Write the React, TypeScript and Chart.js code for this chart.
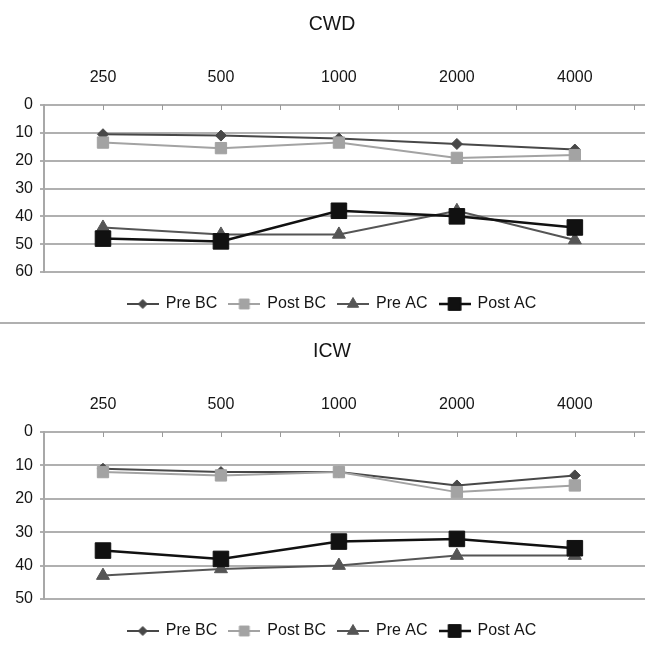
import React, { useEffect, useRef } from 'react';
import { Chart, registerables } from 'chart.js';
import { drawPoint } from 'chart.js/helpers';

Chart.register(...registerables);

const freqLabels = ['250', '500', '1000', '2000', '4000'];
const seriesNames = ['Pre BC', 'Post BC', 'Pre AC', 'Post AC'];

const cwdPreBC = [10.5, 11, 12, 14, 16];
const cwdPostBC = [13.5, 15.5, 13.5, 19, 18];
const cwdPreAC = [44, 46.5, 46.5, 38, 48.5];
const cwdPostAC = [48, 49, 38, 40, 44];

const icwPreBC = [11, 12, 12, 16, 13];
const icwPostBC = [12, 13, 12, 18, 16];
const icwPreAC = [43, 41, 40, 37, 37];
const icwPostAC = [35.5, 38, 32.8, 32, 34.8];

const cwdMax = 60;
const icwMax = 50;
const yStep = 10;

const FAMILY = '"Liberation Sans", Arial, sans-serif';
const TEXT = '#151515';

const STYLES = [
  { color: '#484848', pointStyle: 'rectRot', radius: 5.5, legendRadius: 4.5, lineWidth: 2 },
  { color: '#a3a3a3', pointStyle: 'rect', radius: 8, legendRadius: 7, lineWidth: 2 },
  { color: '#555555', pointStyle: 'triangle', radius: 7.5, legendRadius: 6.5, lineWidth: 2 },
  { color: '#111111', pointStyle: 'rect', radius: 11, legendRadius: 9, lineWidth: 2.5 },
];

function makeIcon(s: any) {
  const c = document.createElement('canvas');
  c.width = 32;
  c.height = 18;
  const ctx = c.getContext('2d')!;
  ctx.strokeStyle = s.color;
  ctx.fillStyle = s.color;
  ctx.lineWidth = s.lineWidth;
  ctx.beginPath();
  ctx.moveTo(0, 9);
  ctx.lineTo(32, 9);
  ctx.stroke();
  ctx.lineWidth = 1;
  drawPoint(ctx, { pointStyle: s.pointStyle, radius: s.legendRadius, rotation: 0, borderWidth: 1 } as any, 16, 9);
  return c;
}

const innerTicks = {
  id: 'innerTicks',
  beforeDatasetsDraw(chart: any) {
    const xs = chart.scales.x;
    const { top } = chart.chartArea;
    const ctx = chart.ctx;
    ctx.save();
    ctx.strokeStyle = '#9a9a9a';
    ctx.lineWidth = 1;
    for (let v = 0; v <= freqLabels.length - 0.5; v += 0.5) {
      const px = Math.round(xs.getPixelForValue(v)) + 0.5;
      ctx.beginPath();
      ctx.moveTo(px, top);
      ctx.lineTo(px, top + 5);
      ctx.stroke();
    }
    ctx.restore();
  },
};

function AudioChart({ title, top, ymax, series }: { title: string; top: number; ymax: number; series: number[][] }) {
  const ref = useRef<HTMLCanvasElement | null>(null);
  useEffect(() => {
    if (!ref.current) return;
    const icons = STYLES.map(makeIcon);
    const font = { family: FAMILY, size: 16 };
    const baseGen = (Chart as any).defaults.plugins.legend.labels.generateLabels;
    const chart = new Chart(ref.current, {
      type: 'line',
      data: {
        datasets: series.map((vals, k) => ({
          label: seriesNames[k],
          data: vals.map((v, i) => ({ x: i, y: v })),
          borderColor: STYLES[k].color,
          backgroundColor: STYLES[k].color,
          pointBackgroundColor: STYLES[k].color,
          pointBorderColor: STYLES[k].color,
          pointStyle: STYLES[k].pointStyle as any,
          pointRadius: STYLES[k].radius,
          pointBorderWidth: 1,
          borderWidth: STYLES[k].lineWidth,
          tension: 0,
          order: series.length - k,
        })),
      },
      options: {
        responsive: false,
        animation: false,
        layout: { padding: { top: 51, left: 0, right: 0, bottom: 0 } },
        plugins: {
          title: { display: false },
          tooltip: { enabled: false },
          legend: {
            position: 'bottom',
            title: { display: true, text: ' ', font: { family: FAMILY, size: 10, lineHeight: 1.2 }, padding: 0 },
            labels: {
              usePointStyle: true,
              pointStyleWidth: 30,
              padding: 12,
              font,
              color: TEXT,
              sort: (a: any, b: any) => a.datasetIndex - b.datasetIndex,
              generateLabels: (c: any) =>
                baseGen(c).map((it: any) => ({ ...it, pointStyle: icons[it.datasetIndex] })),
            },
          },
        },
        scales: {
          x: {
            type: 'linear',
            position: 'top',
            min: -0.5,
            max: 4.654,
            grid: { display: false, drawTicks: false },
            border: { display: false },
            ticks: {
              stepSize: 1,
              includeBounds: false,
              autoSkip: false,
              maxRotation: 0,
              padding: 17.4,
              font,
              color: TEXT,
              callback: (v: any) => freqLabels[v] ?? '',
            },
          },
          y: {
            reverse: true,
            min: 0,
            max: ymax,
            ticks: { stepSize: yStep, padding: 7, font, color: TEXT },
            grid: { color: '#b0b0b0', lineWidth: 2, tickLength: 4 },
            border: { color: '#a8a8a8', width: 2 },
            afterFit: (s: any) => {
              s.width = 44;
            },
          },
        },
      } as any,
      plugins: [innerTicks],
    });
    return () => chart.destroy();
  }, []);
  return (
    <div style={{ position: 'absolute', top, left: 0, width: 664, height: 322 }}>
      <canvas ref={ref} width={664} height={322} style={{ position: 'absolute', top: 0, left: 0, display: 'block' }} />
      <div
        style={{
          position: 'absolute',
          top: 0,
          left: 0,
          width: 664,
          height: 46,
          lineHeight: '46px',
          textAlign: 'center',
          fontFamily: FAMILY,
          fontSize: 19.5,
          color: TEXT,
        }}
      >
        {title}
      </div>
    </div>
  );
}

export default function App() {
  return (
    <div style={{ position: 'absolute', top: 0, left: 0, width: 645, height: 648, overflow: 'hidden', background: '#fff' }}>
      <AudioChart title="CWD" top={0} ymax={cwdMax} series={[cwdPreBC, cwdPostBC, cwdPreAC, cwdPostAC]} />
      <div style={{ position: 'absolute', top: 322, left: 0, width: 645, height: 2, background: '#b0b0b0' }} />
      <AudioChart title="ICW" top={327} ymax={icwMax} series={[icwPreBC, icwPostBC, icwPreAC, icwPostAC]} />
    </div>
  );
}
